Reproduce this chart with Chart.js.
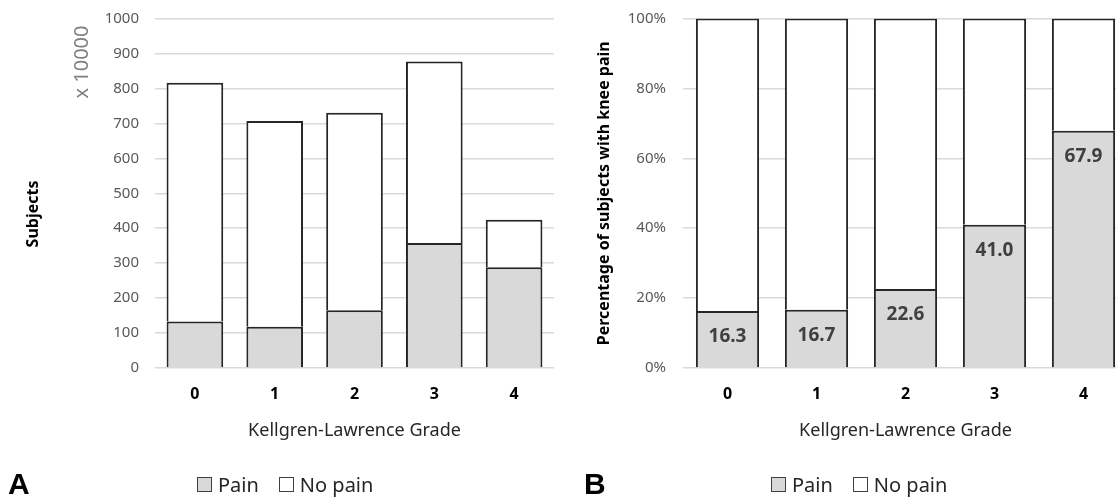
<!DOCTYPE html>
<html>
<head>
<meta charset="utf-8">
<script src="https://cdn.jsdelivr.net/npm/chart.js@4/dist/chart.umd.min.js"></script>
<style>
  html, body { margin:0; padding:0; background:#fff; width:1116px; height:499px; overflow:hidden; position:relative; font-family:'Noto Sans', sans-serif; }
  canvas { position:absolute; top:0; }
  #cA { left:0; }
  #cB { left:560px; }
  .legend { position:absolute; top:471px; display:flex; align-items:center; font-size:20px; color:#262626; white-space:nowrap; }
  .sw { width:13px; height:13px; border:1.5px solid #404040; display:inline-block; margin-right:6px; }
  .item { display:flex; align-items:center; margin-right:20px; }
  .panel { position:absolute; font-family:'Liberation Sans', Arial, sans-serif; font-weight:bold; font-size:30px; color:#000; top:467px; }
</style>
</head>
<body>
<canvas id="cA" width="560" height="499"></canvas>
<canvas id="cB" width="580" height="499"></canvas>
<div class="legend" style="left:197px"><span class="item"><span class="sw" style="background:#d9d9d9"></span>Pain</span><span class="item"><span class="sw" style="background:#fff"></span>No pain</span></div>
<div class="legend" style="left:771px"><span class="item"><span class="sw" style="background:#d9d9d9"></span>Pain</span><span class="item"><span class="sw" style="background:#fff"></span>No pain</span></div>
<div class="panel" style="left:8px">A</div>
<div class="panel" style="left:584px">B</div>
<script>
// ---- data ----
const grades = ['0', '1', '2', '3', '4'];
const painA = [133, 118, 165, 358, 288];       // x 10000 subjects
const noPainA = [683, 589, 565, 519, 136];     // x 10000 subjects
const painPctB = [16.3, 16.7, 22.6, 41.0, 67.9];
const noPainPctB = painPctB.map(v => +(100 - v).toFixed(1));
const yTicksA = [0, 100, 200, 300, 400, 500, 600, 700, 800, 900, 1000];
const yTicksB = [0, 20, 40, 60, 80, 100];

Chart.defaults.font.family = "'Noto Sans', sans-serif";
Chart.defaults.animation = false;

const PAIN_FILL = '#d9d9d9';
const EDGE = '#262626';
const GRID = '#d9d9d9';

function datasets(p, n) {
  return [
    { label: 'Pain', data: p, backgroundColor: PAIN_FILL, borderColor: EDGE, borderWidth: 2, borderSkipped: 'bottom', barPercentage: 1, categoryPercentage: 0.71 },
    { label: 'No pain', data: n, backgroundColor: '#ffffff', borderColor: EDGE, borderWidth: 2, borderSkipped: 'bottom', barPercentage: 1, categoryPercentage: 0.71 }
  ];
}

function xScale() {
  return {
    stacked: true,
    grid: { display: false, drawTicks: false },
    border: { display: false },
    ticks: { color: '#000', font: { size: 16, weight: 'bold' }, padding: 17, maxRotation: 0 },
    title: { display: true, text: 'Kellgren-Lawrence Grade', color: '#262626', font: { size: 18 }, padding: { top: 0, bottom: 57 } },
    afterFit: s => { s.height = 131; s.paddingLeft = 0; s.paddingRight = 0; }
  };
}

const notesA = {
  id: 'notesA',
  afterDraw(chart) {
    const ctx = chart.ctx;
    ctx.save();
    ctx.textAlign = 'center';
    ctx.textBaseline = 'middle';
    // scale multiplier note
    ctx.save();
    ctx.translate(82, 62);
    ctx.rotate(-Math.PI / 2);
    ctx.fillStyle = '#7f7f7f';
    ctx.font = "20px 'Noto Sans', sans-serif";
    ctx.fillText('x 10000', 0, 0);
    ctx.restore();
    // axis title
    ctx.translate(33, 214);
    ctx.rotate(-Math.PI / 2);
    ctx.fillStyle = '#000';
    ctx.font = "bold 16px 'Noto Sans', sans-serif";
    ctx.fillText('Subjects', 0, 0);
    ctx.restore();
  }
};

new Chart(document.getElementById('cA'), {
  type: 'bar',
  data: { labels: grades, datasets: datasets(painA, noPainA) },
  options: {
    responsive: false,
    layout: { padding: { left: 0, right: 6, top: 18.5, bottom: 0 } },
    plugins: { legend: { display: false }, tooltip: { enabled: false } },
    scales: {
      x: xScale(),
      y: {
        stacked: true, min: 0, max: 1000,
        afterBuildTicks: s => { s.ticks = yTicksA.map(v => ({ value: v })); },
        grid: { color: GRID, lineWidth: 1.5, drawTicks: false },
        border: { display: false },
        ticks: { color: '#595959', font: { size: 15 }, padding: 16, callback: v => String(v) },
        title: { display: false },
        afterFit: s => { s.width = 155; s.paddingTop = 0; s.paddingBottom = 0; }
      }
    }
  },
  plugins: [notesA]
});

const pctLabels = {
  id: 'pctLabels',
  afterDatasetsDraw(chart) {
    const ctx = chart.ctx;
    const meta = chart.getDatasetMeta(0);
    ctx.save();
    ctx.fillStyle = '#404040';
    ctx.font = "bold 19px 'Noto Sans', sans-serif";
    ctx.textAlign = 'center';
    ctx.textBaseline = 'middle';
    meta.data.forEach((bar, i) => {
      ctx.fillText(painPctB[i].toFixed(1), bar.x, bar.y + 26);
    });
    ctx.restore();
  }
};

new Chart(document.getElementById('cB'), {
  type: 'bar',
  data: { labels: grades, datasets: datasets(painPctB, noPainPctB) },
  options: {
    responsive: false,
    layout: { padding: { left: 0, right: 12, top: 18.5, bottom: 0 } },
    plugins: { legend: { display: false }, tooltip: { enabled: false } },
    scales: {
      x: xScale(),
      y: {
        stacked: true, min: 0, max: 100,
        afterBuildTicks: s => { s.ticks = yTicksB.map(v => ({ value: v })); },
        grid: { color: GRID, lineWidth: 1.5, drawTicks: false },
        border: { display: false },
        ticks: { color: '#595959', font: { size: 15 }, padding: 17, callback: v => v + '%' },
        title: { display: true, text: 'Percentage of subjects with knee pain', color: '#000', font: { size: 16, weight: 'bold' }, padding: { top: 35, bottom: 0 } },
        afterFit: s => { s.width = 123; s.paddingTop = 0; s.paddingBottom = 0; }
      }
    }
  },
  plugins: [pctLabels]
});
</script>
</body>
</html>
